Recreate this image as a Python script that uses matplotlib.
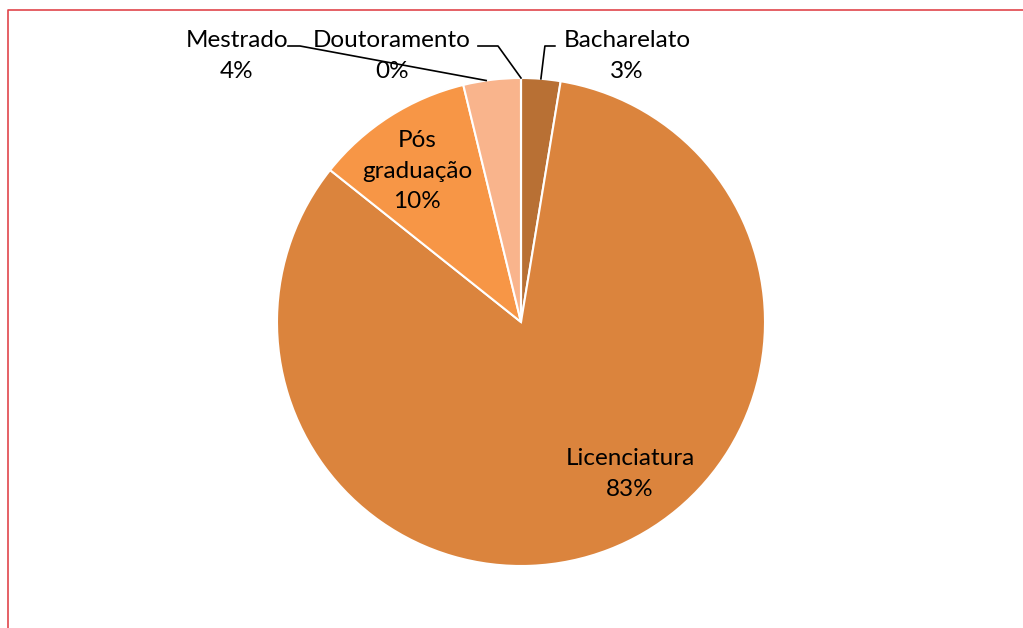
import numpy as np
import matplotlib.pyplot as plt

plt.rcParams['font.family'] = ['Lato', 'DejaVu Sans']

categorias = ["Bacharelato", "Licenciatura", "Pós graduação", "Mestrado", "Doutoramento"]
valores = [2.6, 83.1, 10.5, 3.8, 0.0]
percentagens = ["3%", "83%", "10%", "4%", "0%"]
cores = ["#B87034", "#DB843D", "#F79646", "#F9B48C", "#FAC9A8"]

fig = plt.figure(figsize=(10.23, 6.28), dpi=100)
ax = fig.add_axes([0, 0, 1, 1])
ax.set_aspect("equal")
ax.axis("off")

cx, cy, r = 521, 306, 244
wedges, _ = ax.pie(valores, colors=cores, startangle=90, counterclock=False,
                   center=(cx, cy), radius=r,
                   wedgeprops=dict(edgecolor="white", linewidth=1.5))
ax.set_xlim(0, 1023)
ax.set_ylim(0, 628)

def ponto(w, frac=0.5, rr=1.0):
    ang = np.deg2rad(w.theta1 + (w.theta2 - w.theta1) * frac)
    return cx + r * rr * np.cos(ang), cy + r * rr * np.sin(ang)

fs = 17.5
ls = 1.55
# Bacharelato
x0, y0 = ponto(wedges[0])
ax.plot([x0, x0 + 4, x0 + 14], [y0, 582, 582], color="black", lw=1.2)
ax.text(627, 572, categorias[0] + "\n" + percentagens[0], ha="center", va="center",
        fontsize=fs, linespacing=ls)
# Licenciatura
ax.text(630, 154, categorias[1] + "\n" + percentagens[1], ha="center", va="center",
        fontsize=fs, linespacing=ls)
# Pos graduacao
ax.text(417, 457, "Pós\ngraduação\n" + percentagens[2], ha="center", va="center",
        fontsize=fs, linespacing=ls)
# Mestrado
x0, y0 = ponto(wedges[3], 0.6)
ax.plot([x0, 300, 288], [y0, 582, 582], color="black", lw=1.2)
ax.text(237, 572, categorias[3] + "\n" + percentagens[3], ha="center", va="center",
        fontsize=fs, linespacing=ls)
# Doutoramento
x0, y0 = ponto(wedges[4])
ax.plot([x0, 498, 478], [y0, 582, 582], color="black", lw=1.2)
ax.text(392, 572, categorias[4] + "\n" + percentagens[4], ha="center", va="center",
        fontsize=fs, linespacing=ls)

# moldura
ax.plot([8, 8, 1023], [0, 618, 618], color="#E0464B", lw=1.2, clip_on=False)

fig.savefig("out.png", dpi=100)
